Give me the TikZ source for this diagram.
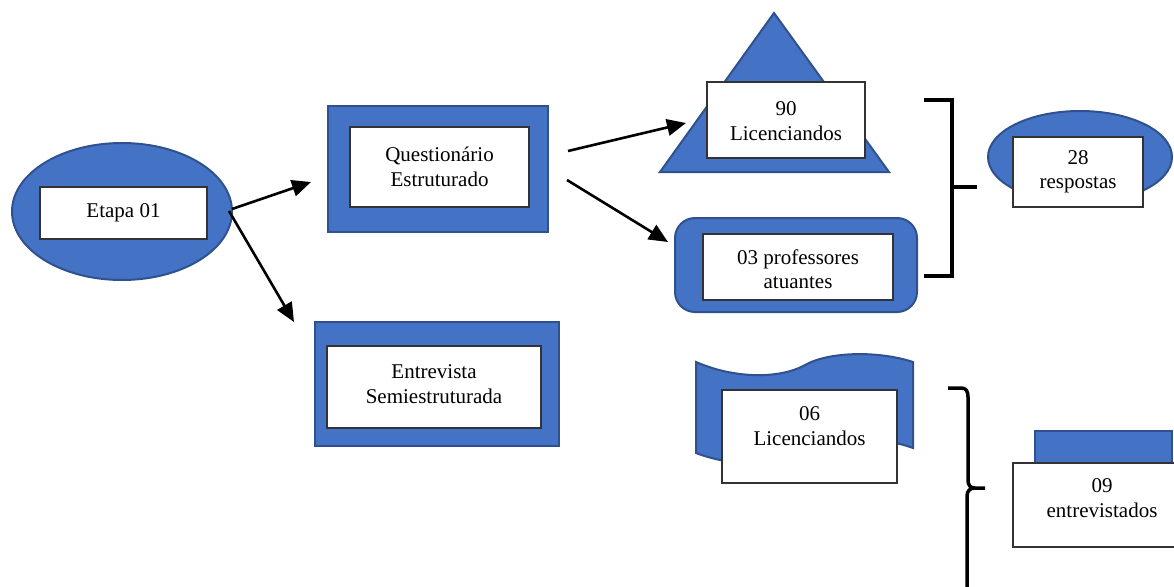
\documentclass[tikz,border=0pt]{standalone}
\usepackage{fontspec}
\setmainfont{Liberation Serif}
\usetikzlibrary{arrows.meta,shapes.geometric}
\definecolor{bfill}{HTML}{4472C4}
\definecolor{bline}{HTML}{2F528F}
\tikzset{
  blue shape/.style={draw=bline, fill=bfill, line width=2pt},
  outerbox/.style={blue shape, rectangle, inner sep=0pt},
  wbox/.style={draw=black!80, fill=white, line width=1.3pt, rectangle, inner sep=0pt},
  txt/.style={align=center, font=\fontsize{21}{24.5}\selectfont, inner sep=0pt},
  arr/.style={-{Triangle[length=19pt,width=16.5pt]}, line width=2.6pt, black},
  brk/.style={line width=3.5pt, black},
}
\begin{document}
\begin{tikzpicture}[x=1pt,y=-1pt]
\useasboundingbox (0,0) rectangle (1174,586);
\clip (0,0) rectangle (1174,586);

% Etapa 01
\node[blue shape, ellipse, minimum width=220pt, minimum height=137pt, inner sep=0pt] (etapa) at (122,211.5) {};
\node[wbox, minimum width=167pt, minimum height=52pt] (etapab) at (123.5,213) {};
\node[txt] (etapat) at (123.5,213) {Etapa 01};

% Questionario
\node[outerbox, minimum width=220pt, minimum height=126pt] (quest) at (438,169) {};
\node[wbox, minimum width=179pt, minimum height=80pt] (questb) at (439.5,167) {};
\node[txt] (questt) at (439.5,167) {Questionário\\Estruturado};

% Entrevista
\node[outerbox, minimum width=244pt, minimum height=124pt] (entr) at (437,384) {};
\node[wbox, minimum width=214pt, minimum height=82pt] (entrb) at (434,387) {};
\node[txt] (entrt) at (434,384) {Entrevista\\Semiestruturada};

% Triangle
\draw[blue shape, line join=miter] (774,13) -- (889,172) -- (660,172) -- cycle;
\node[wbox, minimum width=158pt, minimum height=76pt] (lic90b) at (786,120) {};
\node[txt] (lic90t) at (786,121) {90\\Licenciandos};

% Rounded rectangle
\node[blue shape, rectangle, rounded corners=20pt, minimum width=242pt, minimum height=94pt, inner sep=0pt] (prof) at (796,265) {};
\node[wbox, minimum width=190pt, minimum height=66pt] (profb) at (798,267) {};
\node[txt] (proft) at (798,269) {03 professores\\atuantes};

% Bracket 1
\coordinate (b1a) at (924,100);
\coordinate (b1b) at (952,100);
\coordinate (b1c) at (952,276);
\coordinate (b1d) at (924,276);
\coordinate (b1m) at (952,187);
\coordinate (b1t) at (977,187);
\draw[brk] (b1a) -- (b1b) -- (b1c) -- (b1d);
\draw[brk] (b1m) -- (b1t);

% Ellipse 28
\node[blue shape, ellipse, minimum width=184pt, minimum height=92pt, inner sep=0pt] (resp) at (1080,157) {};
\node[wbox, minimum width=130pt, minimum height=70pt] (respb) at (1078,172) {};
\node[txt] (respt) at (1078,172) {28\\respostas};

% Wave shape
\draw[blue shape] (696,362) .. controls (735,379) and (780,379) .. (805,365)
  .. controls (830,351) and (880,351) .. (913,362) -- (913,448)
  .. controls (880,436) and (835,436) .. (805,451)
  .. controls (780,466) and (735,468) .. (696,453) -- cycle;
\node[wbox, minimum width=175pt, minimum height=93pt] (lic06b) at (809.5,436.5) {};
\node[txt] (lic06t) at (809.5,426) {06\\Licenciandos};

% Bracket 2 (curly)
\draw[brk] (948,388) -- (961,388) .. controls (966,388) and (968,391) .. (968,397)
  -- (968,480) .. controls (968,485) and (970,488) .. (975,488) -- (985,488);
\draw[brk] (975,488) .. controls (970,488) and (967,491) .. (967,496) -- (967,600);

% 09 entrevistados
\node[outerbox, minimum width=137pt, minimum height=32pt] (entv) at (1103.5,447) {};
\node[wbox, minimum width=178pt, minimum height=84pt] (entvb) at (1102,505) {};
\node[txt] (entvt) at (1102,498) {09\\entrevistados};

% Arrows
\coordinate (a1s) at (232,209);
\coordinate (a1e) at (311,182);
\coordinate (a2s) at (229,211);
\coordinate (a2e) at (294,322);
\coordinate (a3s) at (568,151);
\coordinate (a3e) at (686,123);
\coordinate (a4s) at (567,180);
\coordinate (a4e) at (668,242);
\draw[arr] (a1s) -- (a1e);
\draw[arr] (a2s) -- (a2e);
\draw[arr] (a3s) -- (a3e);
\draw[arr] (a4s) -- (a4e);
\end{tikzpicture}
\end{document}
